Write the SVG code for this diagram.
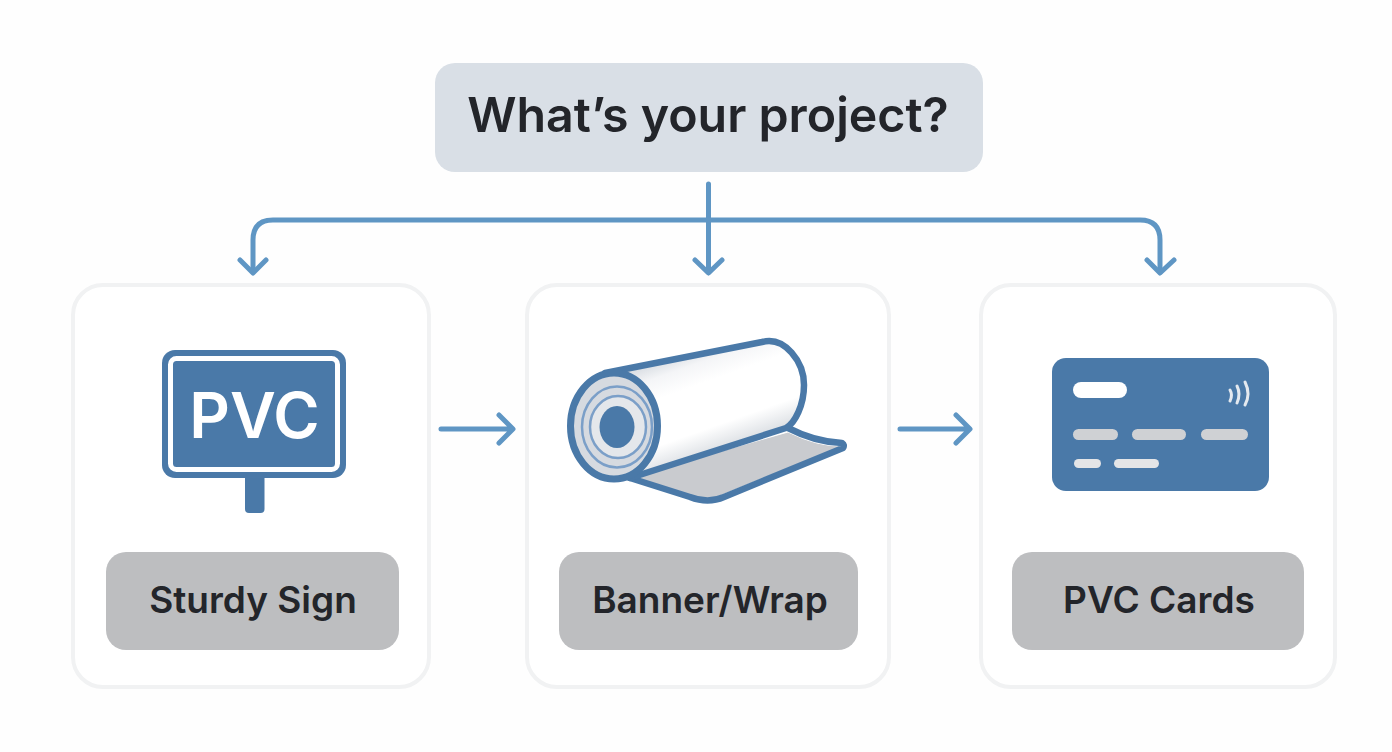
<svg xmlns="http://www.w3.org/2000/svg" width="1392" height="752" viewBox="0 0 1392 752">
<defs>
<linearGradient id="roll" gradientUnits="userSpaceOnUse" x1="665" y1="352" x2="705" y2="465">
<stop offset="0" stop-color="#cdd3da"/><stop offset="0.18" stop-color="#f4f5f7"/><stop offset="0.35" stop-color="#ffffff"/><stop offset="0.72" stop-color="#ffffff"/><stop offset="1" stop-color="#cfd4da"/>
</linearGradient>
</defs>
<style>
text{font-family:Inter,"Liberation Sans",sans-serif;text-anchor:middle}
.card{fill:#fff;stroke:#f1f2f3;stroke-width:4}
.lab{fill:#bdbec0}
.labt{font-size:37px;font-weight:600;fill:#23252a}
.c{fill:none;stroke:#5f96c4;stroke-width:5;stroke-linecap:round;stroke-linejoin:round}
.b{fill:#4a79a8}
.o{stroke:#4a79a8;stroke-linejoin:round;stroke-linecap:round}
</style>
<rect width="1392" height="752" fill="#fefefe"/>
<g id="connectors">
<path class="c" d="M708.500 184V272M253 272V240Q253 220 273 220H1140Q1160 220 1160 240V272"/>
<path class="c" d="M240 260L253 273L266 260M695 260L708.500 273L722 260M1147 260L1160 273L1174 260"/>
<path class="c" d="M441 429H512M499 415L513 429L499 443M900 429H969M956 415L970 429L956 443"/>
</g>
<g id="question">
<rect x="435" y="63" width="548" height="109" rx="20" fill="#d9dfe6"/>
<text x="708" y="132" font-size="48.300" font-weight="600" fill="#23252a">What’s your project?</text>
</g>
<g id="sturdy-sign">
<rect class="card" x="73" y="285" width="356" height="402" rx="30"/>
<rect class="b" x="245" y="470" width="19.500" height="43" rx="4"/>
<rect x="162" y="350" width="184" height="128" rx="13" fill="#4a79a8"/>
<rect x="170.500" y="358.500" width="167" height="111" rx="6" fill="#4a79a8" stroke="#fff" stroke-width="5"/>
<text x="254.500" y="438" font-size="63" font-weight="600" fill="#fff">PVC</text>
<rect class="lab" x="106" y="552" width="293" height="98" rx="20"/>
<text class="labt" x="253" y="613">Sturdy Sign</text>
</g>
<g id="banner-wrap">
<rect class="card" x="527" y="285" width="362" height="402" rx="30"/>
<path d="M630 477L788 432Q818 447 843 446L712 499Q700 503 685 497Z" fill="#c9cbcf" stroke="#fff" stroke-width="1"/>
<path class="o" fill="none" stroke-width="6.500" d="M630 478L690 497Q708 504 724 497L843 448Q845 445 842 443Q815 442 788 428"/>
<path d="M610 372L768 340C790 338 804 365 804 385C804 405 795 425 785 430L634 478Z" fill="url(#roll)"/>
<path class="o" fill="none" stroke-width="6.500" d="M605 373L762 342C785 336 804 362 804 385C804 405 795 423 786 428L630 478"/>
<ellipse cx="614" cy="426" rx="43.500" ry="53" fill="#d6dae0" stroke="#4a79a8" stroke-width="7"/>
<ellipse cx="617" cy="427" rx="35" ry="40.500" fill="none" stroke="#7b9fc8" stroke-width="2.500"/>
<ellipse cx="618" cy="427" rx="28" ry="31" fill="#e4e7eb" stroke="#7b9fc8" stroke-width="2.500"/>
<ellipse class="b" cx="617" cy="427" rx="17.500" ry="21"/>
<rect class="lab" x="559" y="552" width="299" height="98" rx="20"/>
<text class="labt" x="710" y="613">Banner/Wrap</text>
</g>
<g id="pvc-cards">
<rect class="card" x="981" y="285" width="354" height="402" rx="30"/>
<rect class="b" x="1052" y="358" width="217" height="133" rx="14"/>
<rect x="1073" y="382" width="54" height="16" rx="8" fill="#fff"/>
<path d="M1230 390Q1233 395 1230 401M1237 386Q1241 394 1237 403M1245 382Q1251 394 1245 405" fill="none" stroke="#e4e9ef" stroke-width="3" stroke-linecap="round"/>
<g fill="#cfd1d4"><rect x="1073" y="429" width="45" height="11" rx="5.500"/><rect x="1132" y="429" width="54" height="11" rx="5.500"/><rect x="1201" y="429" width="47" height="11" rx="5.500"/></g>
<g fill="#e4e5e7"><rect x="1074" y="459" width="27" height="9" rx="4.500"/><rect x="1114" y="459" width="45" height="9" rx="4.500"/></g>
<rect class="lab" x="1012" y="552" width="292" height="98" rx="20"/>
<text class="labt" x="1159" y="613">PVC Cards</text>
</g>
</svg>
